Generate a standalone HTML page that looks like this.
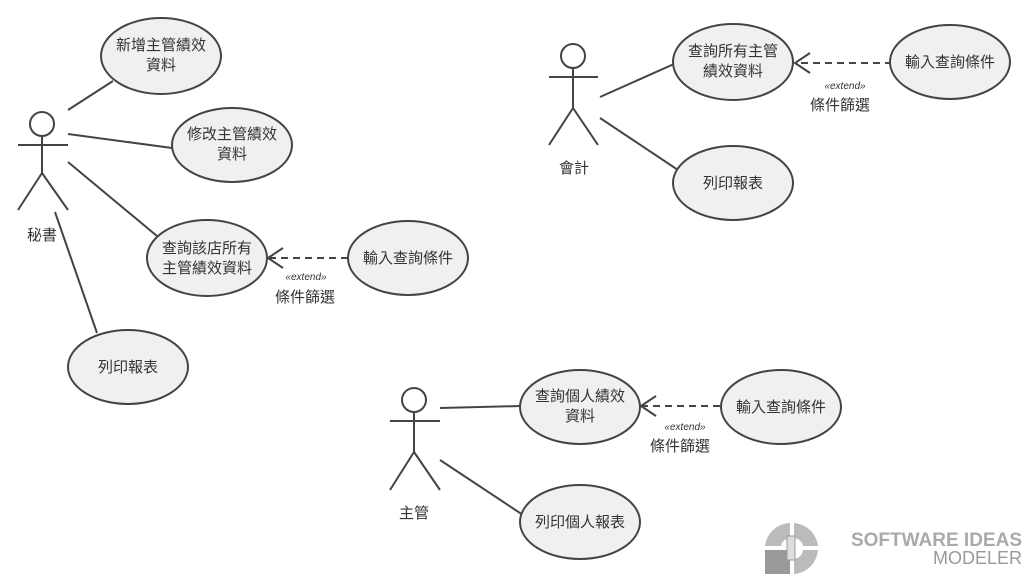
<!DOCTYPE html>
<html><head><meta charset="utf-8"><style>
html,body{margin:0;padding:0;background:#fff;}
svg text{font-family:"Liberation Sans","Noto Sans CJK TC",sans-serif;fill:#333;}
</style></head><body>
<svg width="1032" height="583" viewBox="0 0 1032 583" xmlns="http://www.w3.org/2000/svg">
<g stroke="#444" stroke-width="2" fill="none">
<!-- actor 秘書 -->
<circle cx="42" cy="124" r="12" fill="#fff"/>
<line x1="18" y1="145" x2="68" y2="145"/><line x1="42" y1="136" x2="42" y2="173"/>
<line x1="42" y1="173" x2="18" y2="210"/><line x1="42" y1="173" x2="68" y2="210"/>
<!-- actor 會計 -->
<circle cx="573" cy="56" r="12" fill="#fff"/>
<line x1="549" y1="77" x2="598" y2="77"/><line x1="573" y1="68" x2="573" y2="108"/>
<line x1="573" y1="108" x2="549" y2="145"/><line x1="573" y1="108" x2="598" y2="145"/>
<!-- actor 主管 -->
<circle cx="414" cy="400" r="12" fill="#fff"/>
<line x1="390" y1="421" x2="440" y2="421"/><line x1="414" y1="412" x2="414" y2="452"/>
<line x1="414" y1="452" x2="390" y2="490"/><line x1="414" y1="452" x2="440" y2="490"/>
<!-- associations -->
<line x1="68" y1="110" x2="113" y2="81"/>
<line x1="68" y1="134" x2="172" y2="148"/>
<line x1="68" y1="162" x2="157" y2="236"/>
<line x1="55" y1="212" x2="97" y2="333"/>
<line x1="600" y1="97" x2="674" y2="64"/>
<line x1="600" y1="118" x2="690" y2="178"/>
<line x1="440" y1="408" x2="521" y2="406"/>
<line x1="440" y1="460" x2="523" y2="515"/>
<!-- extends -->
<line x1="348" y1="258" x2="268" y2="258" stroke-dasharray="7,5"/>
<polyline points="283,248 268,258 283,268"/>
<line x1="892" y1="63" x2="795" y2="63" stroke-dasharray="7,5"/>
<polyline points="810,53 795,63 810,73"/>
<line x1="720" y1="406" x2="641" y2="406" stroke-dasharray="7,5"/>
<polyline points="656,396 641,406 656,416"/>
</g>
<g stroke="#444" stroke-width="2" fill="#f0f0f0">
<ellipse cx="161" cy="56" rx="60" ry="38"/>
<ellipse cx="232" cy="145" rx="60" ry="37"/>
<ellipse cx="207" cy="258" rx="60" ry="38"/>
<ellipse cx="408" cy="258" rx="60" ry="37"/>
<ellipse cx="128" cy="367" rx="60" ry="37"/>
<ellipse cx="733" cy="62" rx="60" ry="38"/>
<ellipse cx="950" cy="62" rx="60" ry="37"/>
<ellipse cx="733" cy="183" rx="60" ry="37"/>
<ellipse cx="580" cy="407" rx="60" ry="37"/>
<ellipse cx="781" cy="407" rx="60" ry="37"/>
<ellipse cx="580" cy="522" rx="60" ry="37"/>
</g>
<g font-size="15" text-anchor="middle">
<text x="161" y="50">新增主管績效</text><text x="161" y="70">資料</text>
<text x="232" y="139">修改主管績效</text><text x="232" y="159">資料</text>
<text x="207" y="253">查詢該店所有</text><text x="207" y="273">主管績效資料</text>
<text x="408" y="263">輸入查詢條件</text>
<text x="128" y="372">列印報表</text>
<text x="733" y="56">查詢所有主管</text><text x="733" y="76">績效資料</text>
<text x="950" y="67">輸入查詢條件</text>
<text x="733" y="188">列印報表</text>
<text x="580" y="401">查詢個人績效</text><text x="580" y="421">資料</text>
<text x="781" y="412">輸入查詢條件</text>
<text x="580" y="527">列印個人報表</text>
<text x="42" y="240">秘書</text>
<text x="574" y="173">會計</text>
<text x="414" y="518">主管</text>
<text x="305" y="302">條件篩選</text>
<text x="840" y="110">條件篩選</text>
<text x="680" y="451">條件篩選</text>
</g>
<g font-size="10" font-style="italic" text-anchor="middle">
<text x="306" y="280">«extend»</text>
<text x="845" y="89">«extend»</text>
<text x="685" y="430">«extend»</text>
</g>
<!-- logo -->
<g>
<path d="M790,523 A26,26 0 0 0 765,546 L781,546 A10,10 0 0 1 790,538 Z" fill="#bbb"/>
<path d="M794,523 A26,26 0 0 1 818,546 L803,546 A10,10 0 0 0 794,538 Z" fill="#bbb"/>
<path d="M818,550 A26,26 0 0 1 794,574 L794,559 A10,10 0 0 0 803,550 Z" fill="#bbb"/>
<rect x="765" y="550" width="25" height="24" fill="#999"/>
<rect x="787" y="536" width="8" height="24" fill="#ddd" stroke="#999" stroke-width="1"/>
<text x="1022" y="546" font-size="19" font-weight="bold" text-anchor="end" style="fill:#aaa">SOFTWARE IDEAS</text>
<text x="1022" y="564" font-size="18" text-anchor="end" style="fill:#999">MODELER</text>
</g>
</svg>
</body></html>
